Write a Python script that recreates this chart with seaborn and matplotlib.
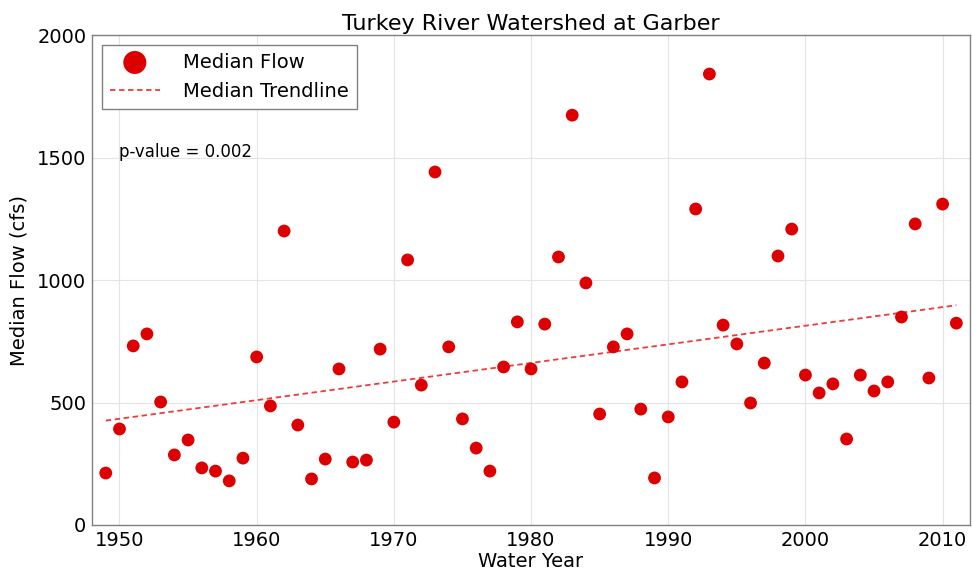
"""
Turkey River Watershed at Garber: annual median flow with median trendline.
"""

import pandas as pd
import matplotlib
matplotlib.use('Agg')
import matplotlib.pyplot as plt
import seaborn as sns

years = list(range(1949, 2012))
median_flow = [212, 392, 731, 780, 502, 286, 347, 233, 220, 180,
               273, 686, 486, 1200, 408, 188, 269, 637, 257, 265,
               718, 420, 1082, 571, 1441, 727, 433, 314, 220, 645,
               829, 637, 820, 1094, 1673, 988, 453, 727, 780, 473,
               192, 441, 584, 1290, 1841, 816, 739, 498, 661, 1098,
               1208, 612, 539, 576, 351, 612, 547, 584, 849, 1229,
               600, 1310, 824]
trend_years = [1949, 2011]
trend_flow = [426, 897]
p_value_text = "p-value = 0.002"

df = pd.DataFrame({'year': years, 'flow': median_flow})
trend = pd.DataFrame({'year': trend_years, 'flow': trend_flow})

sns.set_style("whitegrid", {'grid.color': '#e4e4e4', 'axes.edgecolor': '#808080',
                            'text.color': 'black', 'axes.labelcolor': 'black',
                            'xtick.color': 'black', 'ytick.color': 'black'})
plt.rcParams['font.family'] = ['DejaVu Sans']

fig = plt.figure(figsize=(9.72, 5.73), dpi=100)
ax = fig.add_axes([0.0947, 0.0838, 0.9033, 0.855])

sns.scatterplot(data=df, x='year', y='flow', ax=ax, color='#dd0000', s=85,
                edgecolor='none', label='Median Flow', zorder=3)
sns.lineplot(data=trend, x='year', y='flow', ax=ax, color='#f03a3a',
             linewidth=1.3, label='Median Trendline', zorder=2)
ax.lines[0].set_dashes((3, 2))

ax.set_xlim(1948, 2012)
ax.set_ylim(0, 2000)
ax.set_xticks([1950, 1960, 1970, 1980, 1990, 2000, 2010])
ax.set_yticks([0, 500, 1000, 1500, 2000])
ax.tick_params(axis='both', labelsize=14, length=0, pad=4)
ax.set_xlabel("Water Year", fontsize=14, labelpad=2)
ax.set_ylabel("Median Flow (cfs)", fontsize=14, labelpad=6)
ax.set_title("Turkey River Watershed at Garber", fontsize=16, pad=4)
ax.grid(True, linewidth=0.8)
for sp in ax.spines.values():
    sp.set_linewidth(1.0)

ax.text(1950, 1522, p_value_text, fontsize=12, va='center', ha='left')

leg = ax.legend(loc='upper left', fontsize=14, markerscale=1.8, fancybox=False,
                framealpha=1, edgecolor='#808080', borderpad=0.4, labelspacing=0.55,
                handlelength=2.6, handletextpad=1.2, borderaxespad=0.5)
leg.get_frame().set_linewidth(1.0)
leg.get_lines()[0].set_dashes((3, 2)) if leg.get_lines() else None

fig.savefig("out.png", dpi=100)
plt.close(fig)
